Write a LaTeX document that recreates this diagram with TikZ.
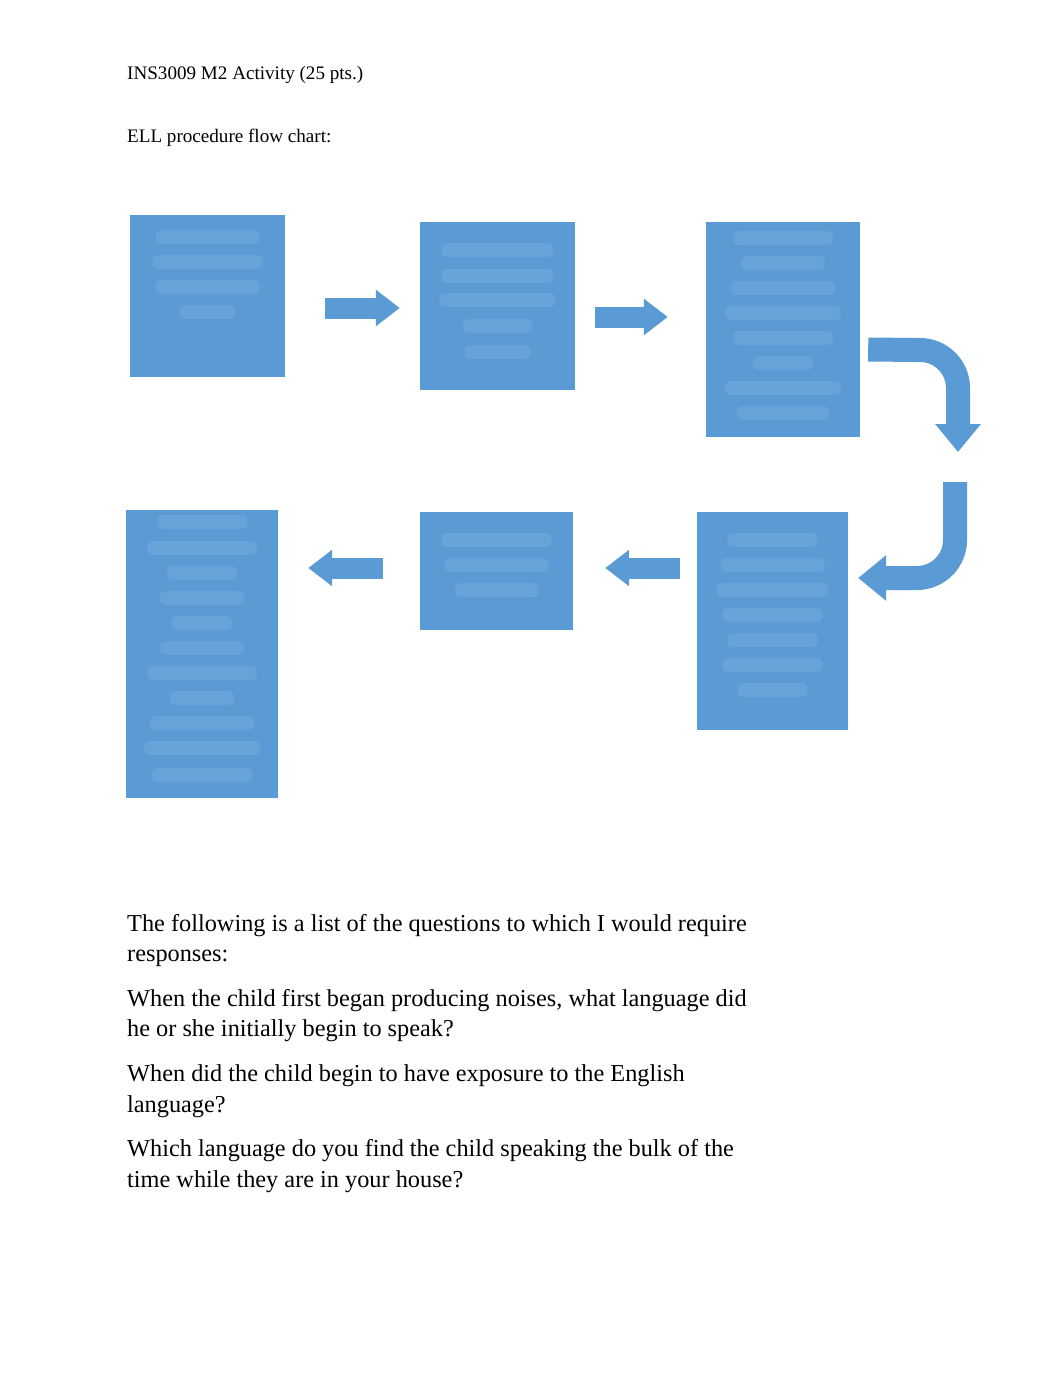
\documentclass[tikz,border=0pt]{standalone}
\usepackage{fontspec}
\setmainfont{Liberation Serif}
\usetikzlibrary{arrows.meta,calc}
\definecolor{boxblue}{RGB}{91,155,213}
\tikzset{
  flowbox/.style={fill=boxblue, draw=none, inner sep=0pt, rectangle},
  streak/.style={fill=white, fill opacity=0.08, rounded corners=5pt},
  barrow/.style={draw=boxblue, line width=21pt, -{Triangle[length=24pt,width=35pt]}},
  carrow/.style={draw=boxblue, line width=24pt, -{Triangle[length=28pt,width=44pt]}},
  headtext/.style={anchor=base west, inner sep=0pt, font=\fontsize{19.1}{23}\selectfont},
  bodytext/.style={anchor=base west, inner sep=0pt, font=\fontsize{24.3}{29}\selectfont}
}
\begin{document}
\begin{tikzpicture}[x=1pt,y=-1pt]
\useasboundingbox (0,0) rectangle (1062,1376);
\fill[white] (0,0) rectangle (1062,1376);

% header texts
\node[headtext] (title) at (127,79) {INS3009 M2 Activity (25 pts.)};
\node[headtext] (sub) at (127,142) {ELL procedure flow chart:};

% boxes
\node[flowbox, minimum width=155pt, minimum height=162pt] (b1) at (207.5,296) {};
\node[flowbox, minimum width=155pt, minimum height=168pt] (b2) at (497.5,306) {};
\node[flowbox, minimum width=154pt, minimum height=215pt] (b3) at (783,329.5) {};
\node[flowbox, minimum width=151pt, minimum height=218pt] (b4) at (772.5,621) {};
\node[flowbox, minimum width=153pt, minimum height=118pt] (b5) at (496.5,571) {};
\node[flowbox, minimum width=152pt, minimum height=288pt] (b6) at (202,654) {};

% blurred text streaks inside boxes
\foreach \y/\w in {237/104,262/110,287/104,312/56}
  \fill[streak] (207.5-\w/2,\y-7) rectangle (207.5+\w/2,\y+7);
\foreach \y/\w in {250/112,276/112,300/116,326/70,352/66}
  \fill[streak] (497.5-\w/2,\y-7) rectangle (497.5+\w/2,\y+7);
\foreach \y/\w in {238/100,263/84,288/104,313/116,338/100,363/60,388/116,413/92}
  \fill[streak] (783-\w/2,\y-7) rectangle (783+\w/2,\y+7);
\foreach \y/\w in {540/90,565/104,590/112,615/100,640/90,665/100,690/70}
  \fill[streak] (772.5-\w/2,\y-7) rectangle (772.5+\w/2,\y+7);
\foreach \y/\w in {540/110,565/104,590/84}
  \fill[streak] (496.5-\w/2,\y-7) rectangle (496.5+\w/2,\y+7);
\foreach \y/\w in {522/90,548/110,573/70,598/84,623/60,648/84,673/110,698/64,723/104,748/116,775/100}
  \fill[streak] (202-\w/2,\y-7) rectangle (202+\w/2,\y+7);

% straight block arrows
\draw[barrow] ([xshift=40pt,yshift=-12pt]b1.east) -- ([xshift=-20pt,yshift=-2pt]b2.west);
\draw[barrow] ([xshift=20pt,yshift=-11pt]b2.east) -- ([xshift=-38pt,yshift=12.5pt]b3.west);
\draw[barrow] ([xshift=-17pt,yshift=53pt]b4.west) -- ([xshift=32pt,yshift=3pt]b5.east);
\draw[barrow] ([xshift=-37pt,yshift=3pt]b5.west) -- ([xshift=30pt,yshift=86pt]b6.east);

% bent arrows
\coordinate (k1) at (958,452);
\coordinate (k2) at (955,482);
\draw[carrow] ([xshift=8pt,yshift=-20pt]b3.east) -- (920,350) arc[start angle=90, end angle=0, radius=38pt] -- (k1);
\draw[carrow] (k2) -- (955,540) arc[start angle=0, end angle=-90, radius=38pt] -- ([xshift=10pt,yshift=43pt]b4.east);

% question text
\node[bodytext] (l1) at (127,931) {The following is a list of the questions to which I would require};
\node[bodytext] (l2) at (127,961) {responses:};
\node[bodytext] (l3) at (127,1006) {When the child first began producing noises, what language did};
\node[bodytext] (l4) at (127,1036) {he or she initially begin to speak?};
\node[bodytext] (l5) at (127,1081) {When did the child begin to have exposure to the English};
\node[bodytext] (l6) at (127,1112) {language?};
\node[bodytext] (l7) at (127,1156) {Which language do you find the child speaking the bulk of the};
\node[bodytext] (l8) at (127,1187) {time while they are in your house?};
\end{tikzpicture}
\end{document}
